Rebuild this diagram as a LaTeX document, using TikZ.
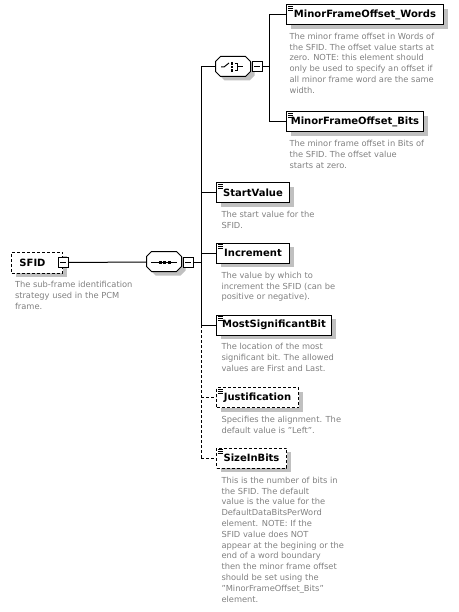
\documentclass[tikz,border=0pt]{standalone}
\usepackage{fontspec}
\setmainfont{DejaVu Sans}
\usetikzlibrary{shadows}
\definecolor{desctext}{RGB}{128,128,128}
\definecolor{shadowgray}{RGB}{192,192,192}

\begin{document}
\begin{tikzpicture}[x=1pt, y=-1pt, line width=1pt,
    boxshadow/.style={drop shadow={shadow xshift=4pt, shadow yshift=-4pt, fill=shadowgray, opacity=1}},
    elembox/.style={draw, fill=white, boxshadow, minimum height=20pt, inner sep=0pt, anchor=west,
        font=\fontsize{10}{12}\selectfont\bfseries},
    elem/.style={elembox, minimum width=#1,
        path picture={\draw[solid, line width=0.8pt] (path picture bounding box.north west)
            ++(1.5pt,-1.5pt) -- ++(4.5pt,0pt) ++(-4.5pt,-2pt) -- ++(4.5pt,0pt) ++(-4.5pt,-2pt) -- ++(4.5pt,0pt);}},
    optelem/.style={elem=#1, dash pattern=on 3pt off 2pt},
    optline/.style={dash pattern=on 3pt off 2pt},
    compositor/.style={minimum width=35pt, minimum height=20pt, inner sep=0pt},
    octagon/.style={draw, fill=white, boxshadow},
    minusbox/.style={draw, fill=white, minimum size=10pt, inner sep=0pt,
        path picture={\draw (path picture bounding box.west) ++(2pt,0pt) -- ++(6pt,0pt);}},
    desc/.style={anchor=north west, inner sep=0pt, align=left, text=desctext,
        font=\fontsize{8.3}{10.8}\selectfont}]

    \useasboundingbox (0,0) rectangle (458,612);

    \coordinate (trunktop) at (201,67);
    \coordinate (branch) at (269,67);

    % root element
    \node[elembox, dash pattern=on 3pt off 2pt, minimum width=51pt, minimum height=21pt,
        text width=35pt, inner xsep=8pt, align=left] (sfid) at (11,262.5) {SFID};
    \node[minusbox] (sfidtoggle) at (sfid.east) {};
    \node[desc] (sfiddesc) at (14.5,281) {The sub-frame identification\\strategy used in the PCM\\frame.};

    % sequence
    \node[compositor] (seq) at (164.5,262) {};
    \draw[octagon] (seq.north west) ++(5,0) -- ++(25,0) -- ++(5,5) -- ++(0,10) -- ++(-5,5)
        -- ++(-25,0) -- ++(-5,-5) -- ++(0,-10) -- cycle;
    \node[minusbox, anchor=west] (seqtoggle) at (seq.east) {};
    \draw (seq.center) ++(-13.5,0) -- ++(26,0);
    \foreach \dx in {-4.5,0,4.5}
        \fill (seq.center) ++(\dx-1.5,-1.5) rectangle ++(3,3);

    % choice
    \node[compositor] (choice) at (233.5,67) {};
    \draw[octagon] (choice.north west) ++(5,0) -- ++(25,0) -- ++(5,5) -- ++(0,10) -- ++(-5,5)
        -- ++(-25,0) -- ++(-5,-5) -- ++(0,-10) -- cycle;
    \node[minusbox, anchor=west] (choicetoggle) at (choice.east) {};
    \draw (choice.center) ++(-12.5,0) -- ++(3,0) -- ++(5,-4); % switch
    \foreach \dy in {-3.5,0,3.5}
        \fill (choice.center) ++(-2.7,\dy-1.2) rectangle ++(2.4,2.4);
    \draw[line width=0.8pt] (choice.center) ++(1,-3.5) -- ++(2.5,0) -- ++(0,7) -- ++(-2.5,0);
    \draw (choice.center) ++(3.5,0) -- ++(6,0);

    % child elements
    \node[elem=157pt] (words) at (286,15) {MinorFrameOffset\_Words};
    \node[elem=137pt] (bits) at (286,122) {MinorFrameOffset\_Bits};
    \node[elem=73pt] (startvalue) at (216,193) {StartValue};
    \node[elem=73pt] (increment) at (216,253) {Increment};
    \node[elem=115pt] (msb) at (216,325) {MostSignificantBit};
    \node[optelem=82pt] (justification) at (216,397.5) {Justification};
    \node[optelem=70pt] (sizeinbits) at (216,458) {SizeInBits};

    \node[desc] (wordsdesc) at (289,32.5) {The minor frame offset in Words of\\the SFID. The offset value starts at\\zero.  NOTE: this element should\\only be used to specify an offset if\\all minor frame word are the same\\width.};
    \node[desc] (bitsdesc) at (289,140) {The minor frame offset in Bits of\\the SFID.  The offset value\\starts at zero.};
    \node[desc] (startvaluedesc) at (221,210.5) {The start value for the\\SFID.};
    \node[desc] (incrementdesc) at (221,271.5) {The value by which to\\increment the SFID (can be\\positive or negative).};
    \node[desc] (msbdesc) at (221,343) {The location of the most\\significant bit.  The allowed\\values are First and Last.};
    \node[desc] (justificationdesc) at (221,416) {Specifies the alignment.  The\\default value is "Left".};
    \node[desc] (sizeinbitsdesc) at (221,476.5) {This is the number of bits in\\the SFID.  The default\\value is the value for the\\DefaultDataBitsPerWord\\element.  NOTE: If the\\SFID value does NOT\\appear at the begining or the\\end of a word boundary\\then the minor frame offset\\should be set using the\\"MinorFrameOffset\_Bits"\\element.};

    % connectors
    \draw (sfidtoggle.east) -- (seq.west);
    \draw (seqtoggle.east) -- (seqtoggle.east -| trunktop);
    \draw (trunktop) -- (msb.west -| trunktop); % trunk
    \draw[optline] (msb.west -| trunktop) -- (sizeinbits.west -| trunktop); % optional part
    \draw (trunktop) -- (choice.west);
    \draw (startvalue.west -| trunktop) -- (startvalue.west);
    \draw (increment.west -| trunktop) -- (increment.west);
    \draw (msb.west -| trunktop) -- (msb.west);
    \draw[optline] (justification.west -| trunktop) -- (justification.west);
    \draw[optline] (sizeinbits.west -| trunktop) -- (sizeinbits.west);

    \draw (choicetoggle.east) -- (branch);
    \draw (words.west -| branch) -- (bits.west -| branch);
    \draw (words.west -| branch) -- (words.west);
    \draw (bits.west -| branch) -- (bits.west);

\end{tikzpicture}
\end{document}
